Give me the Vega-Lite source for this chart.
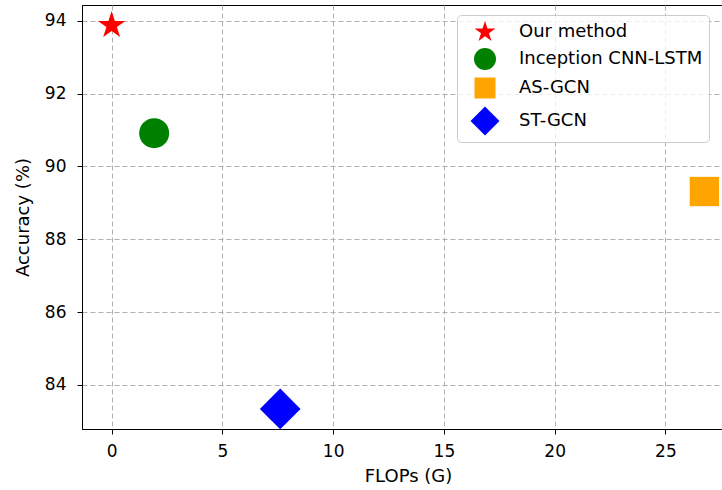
{
  "$schema": "https://vega.github.io/schema/vega-lite/v6.json",
  "autosize": {"type": "none"},
  "padding": {"left": 82, "top": 5, "right": 0, "bottom": 61},
  "width": 652,
  "height": 424,
  "background": "white",
  "config": {
    "font": "DejaVu Sans",
    "view": {"stroke": "black", "strokeWidth": 1},
    "axis": {
      "domainColor": "black",
      "tickColor": "black",
      "tickSize": 5,
      "labelColor": "black",
      "titleColor": "black",
      "labelFontSize": 17,
      "titleFontSize": 18,
      "titleFontWeight": "normal",
      "gridColor": "#b0b0b0",
      "gridDash": [5, 3],
      "gridWidth": 1,
      "gridOpacity": 1
    }
  },
  "data": {
    "values": [
      {"method": "Our method", "flops": 0, "accuracy": 93.87},
      {"method": "Inception CNN-LSTM", "flops": 1.92, "accuracy": 90.91},
      {"method": "AS-GCN", "flops": 26.76, "accuracy": 89.31},
      {"method": "ST-GCN", "flops": 7.61, "accuracy": 83.34}
    ]
  },
  "encoding": {
    "x": {
      "field": "flops", "type": "quantitative",
      "scale": {"domain": [-1.338, 28.098], "nice": false, "zero": false},
      "axis": {"values": [0, 5, 10, 15, 20, 25], "title": "FLOPs (G)", "labelPadding": 9, "titlePadding": 8, "labelFlush": false}
    },
    "y": {
      "field": "accuracy", "type": "quantitative",
      "scale": {"domain": [82.79, 94.43], "nice": false, "zero": false},
      "axis": {"values": [84, 86, 88, 90, 92, 94], "title": "Accuracy (%)", "labelPadding": 11, "titlePadding": 12, "labelFlush": false}
    },
    "color": {
      "field": "method", "type": "nominal",
      "scale": {
        "domain": ["Our method", "Inception CNN-LSTM", "AS-GCN", "ST-GCN"],
        "range": ["#ff0000", "#008000", "#ffa500", "#0000ff"]
      },
      "legend": {
        "title": null,
        "orient": "none",
        "legendX": 375,
        "legendY": 10,
        "padding": 6,
        "symbolOffset": 11,
        "labelOffset": 23,
        "rowPadding": 7,
        "symbolSize": 460,
        "labelFontSize": 18,
        "labelColor": "black",
        "labelLimit": 400,
        "strokeColor": "#cccccc",
        "fillColor": "rgba(255,255,255,0.8)",
        "cornerRadius": 4,
        "symbolStrokeWidth": 0,
        "symbolOpacity": 1,
        "encode": {
          "symbols": {
            "update": {
              "size": {"signal": "datum.value === 'ST-GCN' ? 841 : datum.value === 'AS-GCN' ? 441 : 484"}
            }
          }
        }
      }
    },
    "shape": {
      "field": "method", "type": "nominal",
      "scale": {
        "domain": ["Our method", "Inception CNN-LSTM", "AS-GCN", "ST-GCN"],
        "range": ["M0,-1L0.2245,-0.309L0.951,-0.309L0.3633,0.118L0.5878,0.809L0,0.382L-0.5878,0.809L-0.3633,0.118L-0.951,-0.309L-0.2245,-0.309Z", "circle", "square", "diamond"]
      }
    }
  },
  "layer": [
    {
      "transform": [{"filter": "datum.method === 'Our method'"}],
      "mark": {"type": "point", "filled": true, "opacity": 1, "strokeWidth": 0, "size": 829}
    },
    {
      "transform": [{"filter": "datum.method === 'Inception CNN-LSTM'"}],
      "mark": {"type": "point", "filled": true, "opacity": 1, "strokeWidth": 0, "size": 900}
    },
    {
      "transform": [{"filter": "datum.method === 'AS-GCN'"}],
      "mark": {"type": "point", "filled": true, "opacity": 1, "strokeWidth": 0, "size": 860}
    },
    {
      "transform": [{"filter": "datum.method === 'ST-GCN'"}],
      "mark": {"type": "point", "filled": true, "opacity": 1, "strokeWidth": 0, "size": 1656}
    }
  ]
}
